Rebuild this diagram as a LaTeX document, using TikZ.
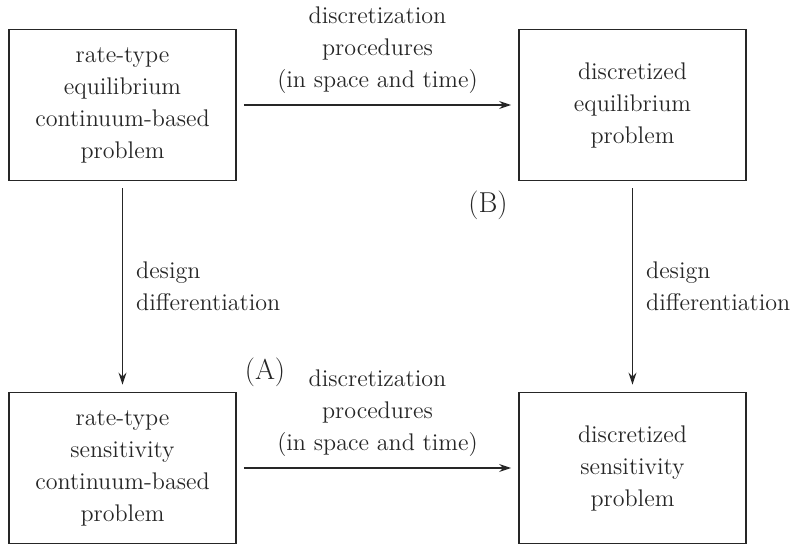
\documentclass[tikz,border=0pt]{standalone}
\usepackage{amsmath}
\usepackage{tikz}
\usetikzlibrary{arrows.meta}

\begin{document}
\begin{tikzpicture}[x=0.2mm,y=-0.2mm,
  every node/.style={font=\fontsize{13.7}{18.2}\selectfont,text=black!85},
  problembox/.style={draw=black!85,line width=1pt,minimum width=4.54cm,minimum height=3.02cm,align=center,inner sep=0pt},
  flowarrow/.style={draw=black!85,line width=0.9pt,-{Stealth[length=2.4mm,width=1.6mm]},shorten <=1.4mm,shorten >=1.4mm},
  casemark/.style={font=\fontsize{16.4}{20}\selectfont}]

\useasboundingbox (0,0) rectangle (797,545);

% problems
\node[problembox] (rateEq) at (122.5,105) {rate-type\\ equilibrium\\ continuum-based\\ problem};
\node[problembox] (discEq) at (632.5,105) {discretized\\ equilibrium\\ problem};
\node[problembox] (rateSens) at (122.5,468) {rate-type\\ sensitivity\\ continuum-based\\ problem};
\node[problembox] (discSens) at (632.5,468) {discretized\\ sensitivity\\ problem};

% discretization
\draw[flowarrow] (rateEq) -- (discEq) node[midway,above=3pt,align=center] {discretization\\ procedures\\ (in space and time)};
\draw[flowarrow] (rateSens) -- (discSens) node[midway,above=3pt,align=center] {discretization\\ procedures\\ (in space and time)};

% design differentiation
\draw[flowarrow] (rateEq) -- (rateSens) node[midway,right=4pt,align=left] {design\\ differentiation};
\draw[flowarrow] (discEq) -- (discSens) node[midway,right=4pt,align=left] {design\\ differentiation};

% paths
\node[casemark] (pathA) at (265,372) {(A)};
\node[casemark] (pathB) at (488,205) {(B)};

\end{tikzpicture}
\end{document}
